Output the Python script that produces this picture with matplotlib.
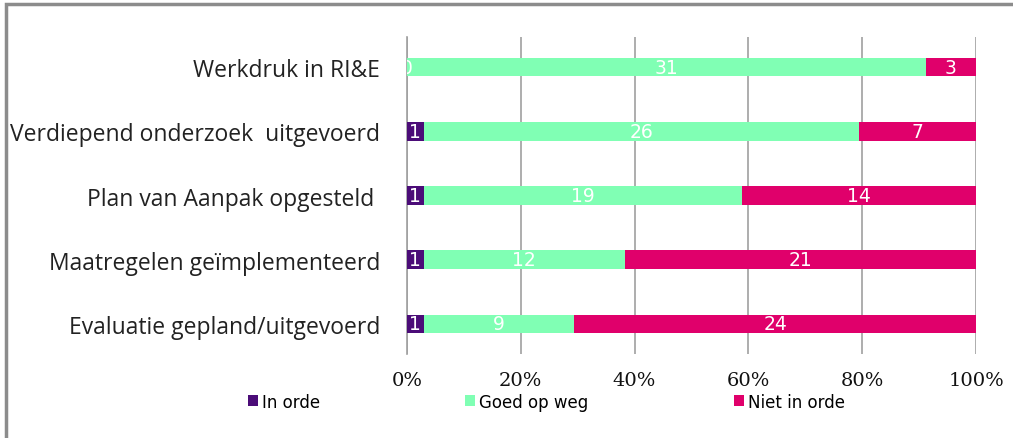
import matplotlib.pyplot as plt
import numpy as np
from matplotlib.patches import Rectangle

# --- Data ---
categories = [
    "Werkdruk in RI&E",
    "Verdiepend onderzoek  uitgevoerd",
    "Plan van Aanpak opgesteld ",
    "Maatregelen geïmplementeerd",
    "Evaluatie gepland/uitgevoerd",
]
in_orde = [0, 1, 1, 1, 1]
goed_op_weg = [31, 26, 19, 12, 9]
niet_in_orde = [3, 7, 14, 21, 24]
series_names = ["In orde", "Goed op weg", "Niet in orde"]
colors = ["#4b0c78", "#80ffb4", "#e0006b"]
x_ticks = [0, 20, 40, 60, 80, 100]

# --- Percentages ---
counts = np.array([in_orde, goed_op_weg, niet_in_orde], dtype=float)
totals = counts.sum(axis=0)
pct = counts / totals * 100

fig = plt.figure(figsize=(10.13, 4.39), dpi=100)
ax = fig.add_axes([0.4018, 0.1913, 0.5617, 0.7221])

y = np.arange(len(categories))
left = np.zeros(len(categories))
handles = []
for i in range(3):
    bars = ax.barh(y, pct[i], left=left, height=0.29, color=colors[i],
                   label=series_names[i], zorder=3)
    handles.append(bars)
    for j in range(len(categories)):
        cx = left[j] + pct[i, j] / 2
        ax.text(cx, y[j], f"{int(counts[i, j])}", ha="center", va="center",
                color="white", fontsize=13.5, family="DejaVu Sans",
                zorder=4, clip_on=True)
    left += pct[i]

ax.set_xlim(0, 100)
ax.set_ylim(4.47, -0.47)
ax.set_yticks(y)
ax.set_yticklabels(categories, fontsize=16.5, family="Open Sans", color="#222222")
ax.set_xticks(x_ticks)
ax.set_xticklabels([f"{t}%" for t in x_ticks], fontsize=14,
                   family="DejaVu Serif", color="#111111")
ax.tick_params(axis="both", length=0)
ax.tick_params(axis="y", pad=19.5)
ax.tick_params(axis="x", pad=12)
ax.grid(axis="x", color="#a0a0a0", linewidth=1.2, zorder=0)
for s in ["top", "right", "bottom"]:
    ax.spines[s].set_visible(False)
ax.spines["left"].set_color("#a0a0a0")
ax.spines["left"].set_linewidth(1.2)

fig.legend(handles=handles, labels=series_names, loc="center left",
           bbox_to_anchor=(0.230, 0.083), ncol=3, frameon=False,
           handlelength=0.6, handleheight=0.6,
           handletextpad=0.25, columnspacing=8.7,
           prop={"family": "DejaVu Sans", "size": 12})

# outer frame (left and top edges visible)
fig.patches.append(Rectangle((6 / 1013, -0.1), 1.2, 1.1 - 5 / 439,
                             transform=fig.transFigure, fill=False,
                             edgecolor="#8c8c8c", linewidth=2.5))

fig.savefig("out.png", dpi=100)
